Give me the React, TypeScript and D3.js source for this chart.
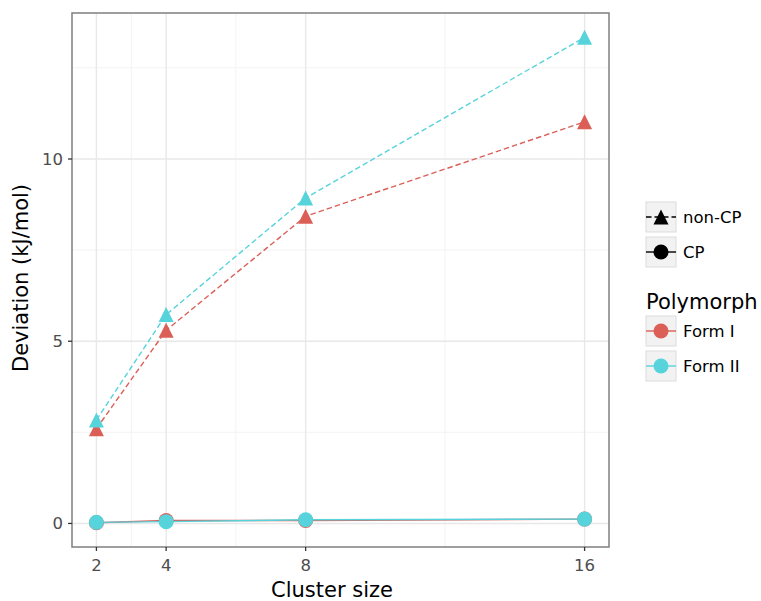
import React from 'react'
import * as d3 from 'd3'

// values
const clusterSizes = [2, 4, 8, 16]
const nonCpFormI = [2.6, 5.3, 8.43, 11.02]
const nonCpFormII = [2.84, 5.73, 8.93, 13.34]
const cpFormI = [0.02, 0.08, 0.08, 0.12]
const cpFormII = [0.03, 0.05, 0.1, 0.12]
const xBreaks = [2, 4, 8, 16]
const xMinor = [3, 6, 12]
const yBreaks = [0, 5, 10]
const yMinor = [2.5, 7.5, 12.5]

const RED = '#db5f57'
const CYAN = '#57d3db'
const FONT = 'DejaVu Sans, sans-serif'

const W = 761, H = 601
const margin = { left: 72, right: 152, top: 13, bottom: 54 }

const series = [
  { name: 'nonCP-I', values: nonCpFormI, color: RED, dashed: true, shape: 'tri' },
  { name: 'nonCP-II', values: nonCpFormII, color: CYAN, dashed: true, shape: 'tri' },
  { name: 'CP-I', values: cpFormI, color: RED, dashed: false, shape: 'circle' },
  { name: 'CP-II', values: cpFormII, color: CYAN, dashed: false, shape: 'circle' },
]

const MS = 15 // marker size px

const tri = (x: number, y: number, s: number) =>
  `M${x},${y - s / 2}L${x + s / 2},${y + s / 2}L${x - s / 2},${y + s / 2}Z`

function Marker({ shape, x, y, color }: { shape: string; x: number; y: number; color: string }) {
  if (shape === 'tri') return <path d={tri(x, y, MS)} fill={color} />
  return <circle cx={x} cy={y} r={MS / 2} fill={color} />
}

export default function App() {
  const allY = [...nonCpFormI, ...nonCpFormII, ...cpFormI, ...cpFormII]
  const [ymin, ymax] = d3.extent(allY) as [number, number]
  const ypad = (ymax - ymin) * 0.05
  const xpad = (d3.max(clusterSizes)! - d3.min(clusterSizes)!) * 0.05

  const x = d3.scaleLinear()
    .domain([d3.min(clusterSizes)! - xpad, d3.max(clusterSizes)! + xpad])
    .range([margin.left, W - margin.right])
  const y = d3.scaleLinear()
    .domain([ymin - ypad, ymax + ypad])
    .range([H - margin.bottom, margin.top])

  const [x0, x1] = x.range()
  const [y0, y1] = y.range()

  const line = d3.line<number>()
    .x((_, i) => x(clusterSizes[i]))
    .y(d => y(d))

  const legendX = 646
  const keyW = 30
  const shapeKeys = [
    { label: 'non-CP', dashed: true, shape: 'tri', top: 202 },
    { label: 'CP', dashed: false, shape: 'circle', top: 237 },
  ]
  const colorKeys = [
    { label: 'Form I', color: RED, top: 316 },
    { label: 'Form II', color: CYAN, top: 351 },
  ]

  return (
    <svg width={W} height={H} style={{ position: 'absolute', left: 0, top: 0, background: '#fff' }}
      fontFamily={FONT}>
      {/* grid */}
      {xMinor.map(v => <line key={'xm' + v} x1={x(v)} x2={x(v)} y1={y0} y2={y1} stroke="#f3f3f3" strokeWidth={1} />)}
      {yMinor.map(v => <line key={'ym' + v} y1={y(v)} y2={y(v)} x1={x0} x2={x1} stroke="#f3f3f3" strokeWidth={1} />)}
      {xBreaks.map(v => <line key={'xg' + v} x1={x(v)} x2={x(v)} y1={y0} y2={y1} stroke="#e8e8e8" strokeWidth={1.4} />)}
      {yBreaks.map(v => <line key={'yg' + v} y1={y(v)} y2={y(v)} x1={x0} x2={x1} stroke="#e8e8e8" strokeWidth={1.4} />)}

      {/* lines */}
      {series.map(s => (
        <path key={'l' + s.name} d={line(s.values)!} fill="none" stroke={s.color} strokeWidth={1.4}
          strokeDasharray={s.dashed ? '5.5,3' : undefined} />
      ))}
      {/* points */}
      {series.map(s => s.values.map((v, i) => (
        <Marker key={s.name + i} shape={s.shape} x={x(clusterSizes[i])} y={y(v)} color={s.color} />
      )))}

      {/* panel border */}
      <rect x={x0} y={y1} width={x1 - x0} height={y0 - y1} fill="none" stroke="#7f7f7f" strokeWidth={1.5} />

      {/* x axis */}
      {xBreaks.map(v => (
        <g key={'xt' + v}>
          <line x1={x(v)} x2={x(v)} y1={y0} y2={y0 + 4} stroke="#333" strokeWidth={1.3} />
          <text x={x(v)} y={y0 + 24} textAnchor="middle" fontSize={16.5} fill="#4d4d4d">{v}</text>
        </g>
      ))}
      {/* y axis */}
      {yBreaks.map(v => (
        <g key={'yt' + v}>
          <line x1={x0 - 4} x2={x0} y1={y(v)} y2={y(v)} stroke="#333" strokeWidth={1.3} />
          <text x={x0 - 9} y={y(v)} dy="0.35em" textAnchor="end" fontSize={16.5} fill="#4d4d4d">{v}</text>
        </g>
      ))}

      <text x={332} y={597} textAnchor="middle" fontSize={21}>Cluster size</text>
      <text transform={`translate(28,${(y0 + y1) / 2 - 2}) rotate(-90)`} textAnchor="middle" fontSize={21}>
        Deviation (kJ/mol)
      </text>

      {/* legend: shape */}
      {shapeKeys.map(k => (
        <g key={k.label}>
          <rect x={legendX} y={k.top} width={keyW} height={keyW} fill="#f2f2f2" stroke="#dcdcdc" strokeWidth={1} />
          <line x1={legendX} x2={legendX + keyW} y1={k.top + keyW / 2} y2={k.top + keyW / 2} stroke="#000"
            strokeWidth={1.4} strokeDasharray={k.dashed ? '5.5,3' : undefined} />
          <Marker shape={k.shape} x={legendX + keyW / 2} y={k.top + keyW / 2} color="#000" />
          <text x={legendX + keyW + 7} y={k.top + keyW / 2} dy="0.35em" fontSize={16.5}>{k.label}</text>
        </g>
      ))}
      <text x={legendX} y={309} fontSize={21}>Polymorph</text>
      {colorKeys.map(k => (
        <g key={k.label}>
          <rect x={legendX} y={k.top} width={keyW} height={keyW} fill="#f2f2f2" stroke="#dcdcdc" strokeWidth={1} />
          <line x1={legendX} x2={legendX + keyW} y1={k.top + keyW / 2} y2={k.top + keyW / 2} stroke={k.color}
            strokeWidth={1.4} />
          <Marker shape="circle" x={legendX + keyW / 2} y={k.top + keyW / 2} color={k.color} />
          <text x={legendX + keyW + 7} y={k.top + keyW / 2} dy="0.35em" fontSize={16.5}>{k.label}</text>
        </g>
      ))}
    </svg>
  )
}
